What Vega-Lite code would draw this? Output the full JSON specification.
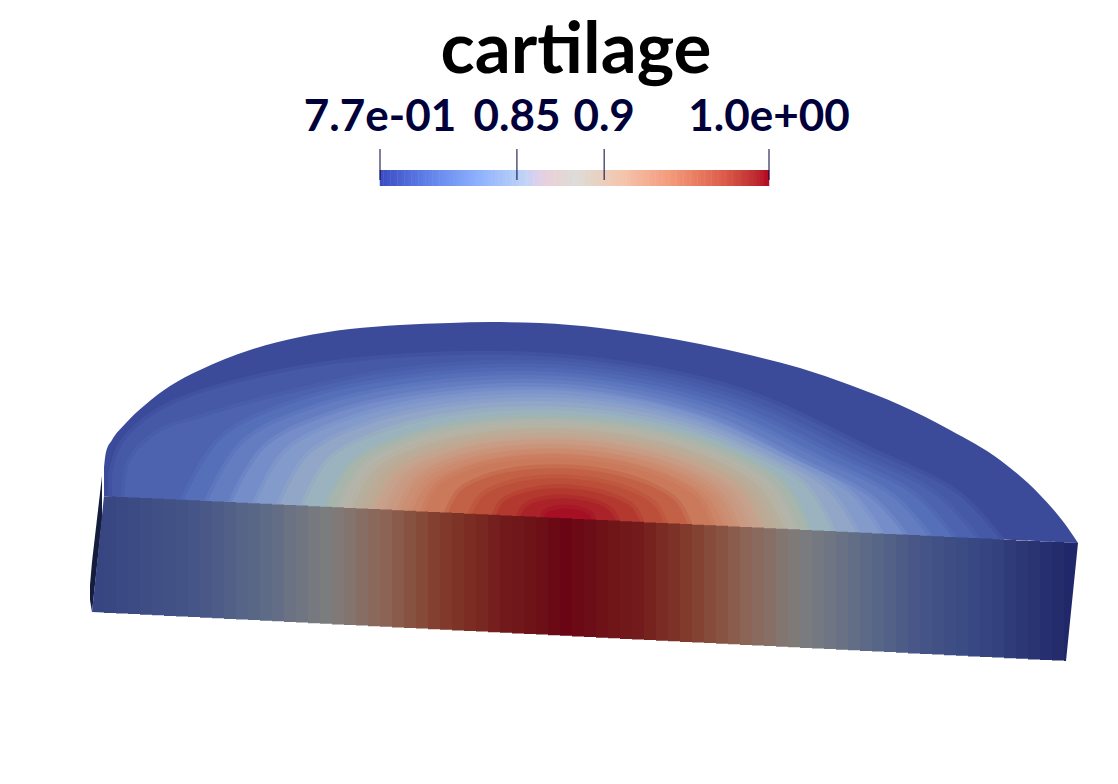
{"$schema":"https://vega.github.io/schema/vega-lite/v6.json","width":1118,"height":784,"padding":0,"autosize":{"type":"fit","contains":"padding"},"background":"white","config":{"view":{"stroke":null}},
"datasets":{
"sliver":[{"x":90,"y":585,"y2":600},{"x":92,"y":562,"y2":612},{"x":102,"y":476,"y2":520}],
"outer":[{"x":104,"y":468,"y2":496,"v":0.775},{"x":106,"y":452,"y2":496.1,"v":0.775},{"x":112,"y":440,"y2":496.4,"v":0.775},{"x":125,"y":424,"y2":497,"v":0.775},{"x":145,"y":405,"y2":498,"v":0.775},{"x":170,"y":386,"y2":499.2,"v":0.775},{"x":200,"y":370,"y2":500.6,"v":0.775},{"x":250,"y":350,"y2":503,"v":0.775},{"x":300,"y":337,"y2":505.5,"v":0.775},{"x":350,"y":329,"y2":507.9,"v":0.775},{"x":400,"y":325,"y2":510.3,"v":0.775},{"x":450,"y":323,"y2":512.7,"v":0.775},{"x":490,"y":322,"y2":514.6,"v":0.775},{"x":540,"y":323,"y2":517.1,"v":0.775},{"x":600,"y":328,"y2":520,"v":0.775},{"x":650,"y":335,"y2":522.4,"v":0.775},{"x":700,"y":344,"y2":524.8,"v":0.775},{"x":750,"y":355,"y2":527.2,"v":0.775},{"x":800,"y":368,"y2":529.6,"v":0.775},{"x":850,"y":385,"y2":532,"v":0.775},{"x":900,"y":405,"y2":534.4,"v":0.775},{"x":950,"y":430,"y2":536.9,"v":0.775},{"x":1000,"y":460,"y2":539.3,"v":0.775},{"x":1040,"y":495,"y2":541.2,"v":0.775},{"x":1065,"y":524,"y2":542.4,"v":0.775},{"x":1078,"y":543,"y2":543,"v":0.775}],
"contours":[
{"x":112,"y":496,"v":0.785},{"x":113,"y":470,"v":0.785},{"x":124,"y":442,"v":0.785},{"x":165,"y":408,"v":0.785},{"x":266,"y":376,"v":0.785},{"x":395,"y":358,"v":0.785},{"x":568,"y":358.3,"v":0.785},{"x":741,"y":391.6,"v":0.785},{"x":870,"y":450.7,"v":0.785},{"x":957,"y":494,"v":0.785},{"x":1000,"y":539.4,"v":0.785},
{"x":125,"y":498,"v":0.792},{"x":130,"y":462,"v":0.792},{"x":160,"y":432,"v":0.792},{"x":201,"y":418,"v":0.792},{"x":282,"y":395.5,"v":0.792},{"x":405,"y":370.4,"v":0.792},{"x":568,"y":365.5,"v":0.792},{"x":731,"y":397.2,"v":0.792},{"x":854,"y":453.7,"v":0.792},{"x":935,"y":494.8,"v":0.792},{"x":976,"y":538.2,"v":0.792},
{"x":184,"y":499.9,"v":0.8},{"x":222,"y":438.4,"v":0.8},{"x":299,"y":401.5,"v":0.8},{"x":414,"y":377.6,"v":0.8},{"x":568,"y":372.9,"v":0.8},{"x":722,"y":403.1,"v":0.8},{"x":837,"y":456.6,"v":0.8},{"x":914,"y":495.7,"v":0.8},{"x":952,"y":537.1,"v":0.8},
{"x":208,"y":501.1,"v":0.81},{"x":244,"y":442.7,"v":0.81},{"x":316,"y":407.8,"v":0.81},{"x":424,"y":385.1,"v":0.81},{"x":568,"y":380.5,"v":0.81},{"x":712,"y":409,"v":0.81},{"x":820,"y":459.8,"v":0.81},{"x":892,"y":496.8,"v":0.81},{"x":928,"y":535.9,"v":0.81},
{"x":232,"y":502.3,"v":0.822},{"x":266,"y":447.1,"v":0.822},{"x":333,"y":414.2,"v":0.822},{"x":434,"y":392.7,"v":0.822},{"x":568,"y":388.3,"v":0.822},{"x":702,"y":415.1,"v":0.822},{"x":803,"y":462.8,"v":0.822},{"x":870,"y":497.9,"v":0.822},{"x":904,"y":534.7,"v":0.822},
{"x":256,"y":503.4,"v":0.833},{"x":287,"y":451.2,"v":0.833},{"x":350,"y":419.8,"v":0.833},{"x":443,"y":399.3,"v":0.833},{"x":568,"y":395,"v":0.833},{"x":693,"y":418.1,"v":0.833},{"x":786,"y":459.3,"v":0.833},{"x":849,"y":493.3,"v":0.833},{"x":880,"y":533.6,"v":0.833},
{"x":280,"y":504.6,"v":0.845},{"x":309,"y":455.2,"v":0.845},{"x":366,"y":425.7,"v":0.845},{"x":453,"y":406.3,"v":0.845},{"x":568,"y":402.1,"v":0.845},{"x":683,"y":421.6,"v":0.845},{"x":770,"y":456.7,"v":0.845},{"x":827,"y":489.9,"v":0.845},{"x":856,"y":532.4,"v":0.845},
{"x":304,"y":505.7,"v":0.86},{"x":330,"y":460.1,"v":0.86},{"x":383,"y":432.6,"v":0.86},{"x":462,"y":414.5,"v":0.86},{"x":568,"y":410.7,"v":0.86},{"x":674,"y":426.7,"v":0.86},{"x":753,"y":455.8,"v":0.86},{"x":806,"y":487.6,"v":0.86},{"x":832,"y":531.3,"v":0.86},
{"x":328,"y":506.9,"v":0.875},{"x":352,"y":464.5,"v":0.875},{"x":400,"y":439,"v":0.875},{"x":472,"y":422.2,"v":0.875},{"x":568,"y":418.5,"v":0.875},{"x":664,"y":431.4,"v":0.875},{"x":736,"y":455.2,"v":0.875},{"x":784,"y":485.3,"v":0.875},{"x":808,"y":530.1,"v":0.875},
{"x":340,"y":507.5,"v":0.883},{"x":363,"y":467.2,"v":0.883},{"x":408,"y":443,"v":0.883},{"x":477,"y":427,"v":0.883},{"x":568,"y":423.5,"v":0.883},{"x":659,"y":435.8,"v":0.883},{"x":728,"y":458.4,"v":0.883},{"x":773,"y":487,"v":0.883},{"x":796,"y":529.5,"v":0.883},
{"x":352,"y":508.1,"v":0.892},{"x":374,"y":469.9,"v":0.892},{"x":417,"y":446.9,"v":0.892},{"x":482,"y":431.8,"v":0.892},{"x":568,"y":428.5,"v":0.892},{"x":654,"y":440.1,"v":0.892},{"x":719,"y":461.5,"v":0.892},{"x":762,"y":488.6,"v":0.892},{"x":784,"y":528.9,"v":0.892},
{"x":364,"y":508.6,"v":0.9},{"x":384,"y":472.6,"v":0.9},{"x":425,"y":450.9,"v":0.9},{"x":486,"y":436.6,"v":0.9},{"x":568,"y":433.5,"v":0.9},{"x":650,"y":444.5,"v":0.9},{"x":711,"y":464.7,"v":0.9},{"x":752,"y":490.3,"v":0.9},{"x":772,"y":528.4,"v":0.9},
{"x":376,"y":509.2,"v":0.91},{"x":395,"y":475.3,"v":0.91},{"x":434,"y":454.9,"v":0.91},{"x":491,"y":441.5,"v":0.91},{"x":568,"y":438.5,"v":0.91},{"x":645,"y":448.8,"v":0.91},{"x":702,"y":467.9,"v":0.91},{"x":741,"y":491.9,"v":0.91},{"x":760,"y":527.8,"v":0.91},
{"x":388,"y":509.8,"v":0.918},{"x":406,"y":478,"v":0.918},{"x":442,"y":458.9,"v":0.918},{"x":496,"y":446.3,"v":0.918},{"x":568,"y":443.5,"v":0.918},{"x":640,"y":453.2,"v":0.918},{"x":694,"y":471,"v":0.918},{"x":730,"y":493.6,"v":0.918},{"x":748,"y":527.2,"v":0.918},
{"x":400,"y":510.4,"v":0.927},{"x":417,"y":480.7,"v":0.927},{"x":450,"y":462.8,"v":0.927},{"x":501,"y":451.1,"v":0.927},{"x":568,"y":448.5,"v":0.927},{"x":635,"y":457.5,"v":0.927},{"x":686,"y":474.2,"v":0.927},{"x":719,"y":495.3,"v":0.927},{"x":736,"y":526.6,"v":0.927},
{"x":412,"y":511,"v":0.936},{"x":428,"y":483.4,"v":0.936},{"x":459,"y":466.8,"v":0.936},{"x":506,"y":455.9,"v":0.936},{"x":568,"y":453.5,"v":0.936},{"x":630,"y":461.9,"v":0.936},{"x":677,"y":477.4,"v":0.936},{"x":708,"y":496.9,"v":0.936},{"x":724,"y":526,"v":0.936},
{"x":424,"y":511.5,"v":0.945},{"x":438,"y":486.1,"v":0.945},{"x":467,"y":470.8,"v":0.945},{"x":510,"y":460.7,"v":0.945},{"x":568,"y":458.5,"v":0.945},{"x":626,"y":466.2,"v":0.945},{"x":669,"y":480.5,"v":0.945},{"x":698,"y":498.6,"v":0.945},{"x":712,"y":525.5,"v":0.945},
{"x":448,"y":512.7,"v":0.96},{"x":460,"y":491.5,"v":0.96},{"x":484,"y":478.7,"v":0.96},{"x":520,"y":470.3,"v":0.96},{"x":568,"y":468.5,"v":0.96},{"x":616,"y":474.9,"v":0.96},{"x":652,"y":486.8,"v":0.96},{"x":676,"y":501.9,"v":0.96},{"x":688,"y":524.3,"v":0.96},
{"x":472,"y":513.9,"v":0.97},{"x":482,"y":496.9,"v":0.97},{"x":501,"y":486.7,"v":0.97},{"x":530,"y":480,"v":0.97},{"x":568,"y":478.5,"v":0.97},{"x":606,"y":483.7,"v":0.97},{"x":635,"y":493.2,"v":0.97},{"x":654,"y":505.2,"v":0.97},{"x":664,"y":523.1,"v":0.97},
{"x":496,"y":515,"v":0.98},{"x":503,"y":502.3,"v":0.98},{"x":518,"y":494.6,"v":0.98},{"x":539,"y":489.6,"v":0.98},{"x":568,"y":488.5,"v":0.98},{"x":597,"y":492.4,"v":0.98},{"x":618,"y":499.5,"v":0.98},{"x":633,"y":508.5,"v":0.98},{"x":640,"y":522,"v":0.98},
{"x":520,"y":516.2,"v":0.988},{"x":525,"y":507.7,"v":0.988},{"x":534,"y":502.6,"v":0.988},{"x":549,"y":499.2,"v":0.988},{"x":568,"y":498.5,"v":0.988},{"x":587,"y":501.1,"v":0.988},{"x":602,"y":505.8,"v":0.988},{"x":611,"y":511.9,"v":0.988},{"x":616,"y":520.8,"v":0.988},
{"x":544,"y":517.3,"v":0.993},{"x":546,"y":513.1,"v":0.993},{"x":551,"y":510.5,"v":0.993},{"x":558,"y":508.9,"v":0.993},{"x":568,"y":508.5,"v":0.993},{"x":578,"y":509.8,"v":0.993},{"x":585,"y":512.2,"v":0.993},{"x":590,"y":515.2,"v":0.993},{"x":592,"y":519.7,"v":0.993}],
"frontEnds":[{"s":0,"x":92,"y":612,"y2":612,"v":0.76},{"s":0,"x":104,"y":496,"y2":612.6,"v":0.76},{"s":1,"x":1064,"y":542.4,"y2":660.9,"v":0.72},{"s":1,"x":1066,"y":542.5,"y2":661,"v":0.72},{"s":1,"x":1078,"y":543,"y2":543,"v":0.72}],
"front":[{"x":110,"y":496.3,"y2":612.9,"v":0.763},{"x":122,"y":496.9,"y2":613.5,"v":0.768},{"x":134,"y":497.5,"y2":614.1,"v":0.773},{"x":146,"y":498,"y2":614.7,"v":0.778},{"x":158,"y":498.6,"y2":615.3,"v":0.783},{"x":170,"y":499.2,"y2":615.9,"v":0.788},{"x":182,"y":499.8,"y2":616.5,"v":0.794},{"x":194,"y":500.3,"y2":617.1,"v":0.799},{"x":206,"y":500.9,"y2":617.7,"v":0.805},{"x":218,"y":501.5,"y2":618.3,"v":0.812},{"x":230,"y":502.1,"y2":618.9,"v":0.818},{"x":242,"y":502.7,"y2":619.5,"v":0.825},{"x":254,"y":503.3,"y2":620.1,"v":0.831},{"x":266,"y":503.8,"y2":620.7,"v":0.838},{"x":278,"y":504.4,"y2":621.3,"v":0.846},{"x":290,"y":505,"y2":622,"v":0.855},{"x":302,"y":505.6,"y2":622.6,"v":0.863},{"x":314,"y":506.2,"y2":623.2,"v":0.872},{"x":326,"y":506.7,"y2":623.8,"v":0.88},{"x":338,"y":507.3,"y2":624.4,"v":0.887},{"x":350,"y":507.9,"y2":625,"v":0.893},{"x":362,"y":508.5,"y2":625.6,"v":0.899},{"x":374,"y":509.1,"y2":626.2,"v":0.905},{"x":386,"y":509.6,"y2":626.8,"v":0.911},{"x":398,"y":510.2,"y2":627.4,"v":0.917},{"x":410,"y":510.8,"y2":628,"v":0.924},{"x":422,"y":511.4,"y2":628.6,"v":0.93},{"x":434,"y":511.9,"y2":629.2,"v":0.937},{"x":446,"y":512.5,"y2":629.8,"v":0.943},{"x":458,"y":513.1,"y2":630.4,"v":0.949},{"x":470,"y":513.7,"y2":631,"v":0.955},{"x":482,"y":514.3,"y2":631.6,"v":0.961},{"x":494,"y":514.8,"y2":632.2,"v":0.967},{"x":506,"y":515.4,"y2":632.8,"v":0.973},{"x":518,"y":516,"y2":633.4,"v":0.978},{"x":530,"y":516.6,"y2":634,"v":0.984},{"x":542,"y":517.2,"y2":634.6,"v":0.989},{"x":554,"y":517.7,"y2":635.2,"v":0.995},{"x":566,"y":518.3,"y2":635.8,"v":1.0},{"x":578,"y":518.9,"y2":636.4,"v":0.995},{"x":590,"y":519.5,"y2":637.1,"v":0.99},{"x":602,"y":520.1,"y2":637.7,"v":0.985},{"x":614,"y":520.6,"y2":638.3,"v":0.98},{"x":626,"y":521.2,"y2":638.9,"v":0.976},{"x":638,"y":521.8,"y2":639.5,"v":0.971},{"x":650,"y":522.4,"y2":640.1,"v":0.964},{"x":662,"y":523,"y2":640.7,"v":0.957},{"x":674,"y":523.5,"y2":641.3,"v":0.95},{"x":686,"y":524.1,"y2":641.9,"v":0.942},{"x":698,"y":524.7,"y2":642.5,"v":0.936},{"x":710,"y":525.3,"y2":643.1,"v":0.929},{"x":722,"y":525.8,"y2":643.7,"v":0.923},{"x":734,"y":526.4,"y2":644.3,"v":0.916},{"x":746,"y":527,"y2":644.9,"v":0.909},{"x":758,"y":527.6,"y2":645.5,"v":0.904},{"x":770,"y":528.2,"y2":646.1,"v":0.898},{"x":782,"y":528.8,"y2":646.7,"v":0.892},{"x":794,"y":529.3,"y2":647.3,"v":0.886},{"x":806,"y":529.9,"y2":647.9,"v":0.879},{"x":818,"y":530.5,"y2":648.5,"v":0.87},{"x":830,"y":531.1,"y2":649.1,"v":0.862},{"x":842,"y":531.7,"y2":649.7,"v":0.853},{"x":854,"y":532.2,"y2":650.3,"v":0.844},{"x":866,"y":532.8,"y2":650.9,"v":0.836},{"x":878,"y":533.4,"y2":651.5,"v":0.828},{"x":890,"y":534,"y2":652.1,"v":0.82},{"x":902,"y":534.6,"y2":652.7,"v":0.812},{"x":914,"y":535.1,"y2":653.4,"v":0.804},{"x":926,"y":535.7,"y2":654,"v":0.796},{"x":938,"y":536.3,"y2":654.6,"v":0.788},{"x":950,"y":536.9,"y2":655.2,"v":0.78},{"x":962,"y":537.5,"y2":655.8,"v":0.772},{"x":974,"y":538,"y2":656.4,"v":0.764},{"x":986,"y":538.6,"y2":657,"v":0.758},{"x":998,"y":539.2,"y2":657.6,"v":0.753},{"x":1010,"y":539.8,"y2":658.2,"v":0.747},{"x":1022,"y":540.4,"y2":658.8,"v":0.741},{"x":1034,"y":540.9,"y2":659.4,"v":0.736},{"x":1046,"y":541.5,"y2":660,"v":0.73},{"x":1058,"y":542.1,"y2":660.6,"v":0.725}],
"bar":[{"v":0.7725},{"v":0.7745},{"v":0.7765},{"v":0.7785},{"v":0.7805},{"v":0.7825},{"v":0.7845},{"v":0.7865},{"v":0.7885},{"v":0.7905},{"v":0.7925},{"v":0.7945},{"v":0.7965},{"v":0.7985},{"v":0.8005},{"v":0.8025},{"v":0.8045},{"v":0.8065},{"v":0.8085},{"v":0.8105},{"v":0.8125},{"v":0.8145},{"v":0.8165},{"v":0.8185},{"v":0.8205},{"v":0.8225},{"v":0.8245},{"v":0.8265},{"v":0.8285},{"v":0.8305},{"v":0.8325},{"v":0.8345},{"v":0.8365},{"v":0.8385},{"v":0.8405},{"v":0.8425},{"v":0.8445},{"v":0.8465},{"v":0.8485},{"v":0.8505},{"v":0.8525},{"v":0.8545},{"v":0.8565},{"v":0.8585},{"v":0.8605},{"v":0.8625},{"v":0.8645},{"v":0.8665},{"v":0.8685},{"v":0.8705},{"v":0.8725},{"v":0.8745},{"v":0.8765},{"v":0.8785},{"v":0.8805},{"v":0.8825},{"v":0.8845},{"v":0.8865},{"v":0.8885},{"v":0.8905},{"v":0.8925},{"v":0.8945},{"v":0.8965},{"v":0.8985},{"v":0.9005},{"v":0.9025},{"v":0.9045},{"v":0.9065},{"v":0.9085},{"v":0.9105},{"v":0.9125},{"v":0.9145},{"v":0.9165},{"v":0.9185},{"v":0.9205},{"v":0.9225},{"v":0.9245},{"v":0.9265},{"v":0.9285},{"v":0.9305},{"v":0.9325},{"v":0.9345},{"v":0.9365},{"v":0.9385},{"v":0.9405},{"v":0.9425},{"v":0.9445},{"v":0.9465},{"v":0.9485},{"v":0.9505},{"v":0.9525},{"v":0.9545},{"v":0.9565},{"v":0.9585},{"v":0.9605},{"v":0.9625},{"v":0.9645},{"v":0.9665},{"v":0.9685},{"v":0.9705},{"v":0.9725},{"v":0.9745},{"v":0.9765},{"v":0.9785},{"v":0.9805},{"v":0.9825},{"v":0.9845},{"v":0.9865},{"v":0.9885},{"v":0.9905},{"v":0.9925},{"v":0.9935}],
"ticks":[{"v":0.7715,"label":"7.7e-01"},{"v":0.85,"label":"0.85"},{"v":0.9,"label":"0.9"},{"v":0.9945,"label":"1.0e+00"}],
"title":[{"x":576,"y":52,"label":"cartilage"}]
},
"layer":[
{"data":{"name":"sliver"},"mark":{"type":"area","color":"#141e3c"},"encoding":{"x":{"field":"x","type":"quantitative","axis":null,"scale":{"domain":[0,1118],"range":[0,1118]}},"y":{"field":"y","type":"quantitative","axis":null,"stack":null,"scale":{"domain":[0,784],"range":[0,784]}},"y2":{"field":"y2"}}},
{"data":{"name":"outer"},"mark":{"type":"area","interpolate":"monotone"},"encoding":{"x":{"field":"x","type":"quantitative","axis":null,"scale":{"domain":[0,1118],"range":[0,1118]}},"y":{"field":"y","type":"quantitative","axis":null,"stack":null,"scale":{"domain":[0,784],"range":[0,784]}},"y2":{"field":"y2"},"color":{"field":"v","type":"quantitative","legend":null,"scale":{"domain":[0.7715,0.7994,0.8273,0.855,0.883,0.911,0.939,0.967,0.9945],"range":["#374696","#556eb9","#7d96cd","#a0afc3","#b4b4aa","#c8a08c","#cd8264","#be553c","#a50523"]}}}},
{"data":{"name":"contours"},"mark":{"type":"area","interpolate":"catmull-rom","strokeWidth":8,"strokeOpacity":0.5},"encoding":{"x":{"field":"x","type":"quantitative","axis":null,"scale":{"domain":[0,1118],"range":[0,1118]}},"y":{"field":"y","type":"quantitative","axis":null,"stack":null,"scale":{"domain":[0,784],"range":[0,784]}},"y2":{"datum":560},"detail":{"field":"v","type":"quantitative"},"color":{"field":"v","type":"quantitative","legend":null,"scale":{"domain":[0.7715,0.7994,0.8273,0.855,0.883,0.911,0.939,0.967,0.9945],"range":["#374696","#556eb9","#7d96cd","#a0afc3","#b4b4aa","#c8a08c","#cd8264","#be553c","#a50523"]}},"stroke":{"field":"v","type":"quantitative","legend":null,"scale":{"domain":[0.7715,0.7994,0.8273,0.855,0.883,0.911,0.939,0.967,0.9945],"range":["#374696","#556eb9","#7d96cd","#a0afc3","#b4b4aa","#c8a08c","#cd8264","#be553c","#a50523"]}}}},
{"data":{"name":"frontEnds"},"mark":{"type":"area"},"encoding":{"x":{"field":"x","type":"quantitative","axis":null,"scale":{"domain":[0,1118],"range":[0,1118]}},"y":{"field":"y","type":"quantitative","axis":null,"stack":null,"scale":{"domain":[0,784],"range":[0,784]}},"y2":{"field":"y2"},"detail":{"field":"s","type":"nominal"},"color":{"field":"v","type":"quantitative","legend":null,"scale":{"domain":[0.72,0.76,0.8,0.84,0.883,0.91,0.94,0.97,1.0],"range":["#212869","#374682","#465587","#5f6c87","#7d7d7d","#8c6455","#823c2d","#731c1c","#690514"]}}}},
{"data":{"name":"front"},"mark":{"type":"rule","strokeWidth":12},"encoding":{"x":{"field":"x","type":"quantitative","axis":null,"scale":{"domain":[0,1118],"range":[0,1118]}},"y":{"field":"y","type":"quantitative","axis":null,"scale":{"domain":[0,784],"range":[0,784]}},"y2":{"field":"y2"},"color":{"field":"v","type":"quantitative","legend":null,"scale":{"domain":[0.72,0.76,0.8,0.84,0.883,0.91,0.94,0.97,1.0],"range":["#212869","#374682","#465587","#5f6c87","#7d7d7d","#8c6455","#823c2d","#731c1c","#690514"]}}}},
{"data":{"name":"bar"},"mark":{"type":"rule","strokeWidth":4},"encoding":{"x":{"field":"v","type":"quantitative","axis":null,"scale":{"domain":[0.7715,0.9945],"range":[380,769]}},"y":{"datum":170,"type":"quantitative","axis":null,"scale":{"domain":[0,784],"range":[0,784]}},"y2":{"datum":186},"color":{"field":"v","type":"quantitative","legend":null,"scale":{"domain":[0.7715,0.7994,0.8273,0.855,0.883,0.9109,0.9388,0.9666,0.9945],"range":["#3b4cc0","#6182ea","#8db0fe","#c0d4f5","#dddcdb","#f5c4ad","#f4987a","#de604d","#b40426"]}}}},
{"data":{"name":"ticks"},"mark":{"type":"rule","color":"#00003a","strokeWidth":1},"encoding":{"x":{"field":"v","type":"quantitative","axis":null,"scale":{"domain":[0.7715,0.9945],"range":[380,769]}},"y":{"datum":149,"type":"quantitative","axis":null,"scale":{"domain":[0,784],"range":[0,784]}},"y2":{"datum":180}}},
{"data":{"name":"ticks"},"mark":{"type":"text","font":"Lato","fontWeight":"bold","fontSize":44,"color":"#00003a","baseline":"middle","align":"center"},"encoding":{"x":{"field":"v","type":"quantitative","axis":null,"scale":{"domain":[0.7715,0.9945],"range":[380,769]}},"y":{"datum":118,"type":"quantitative","axis":null,"scale":{"domain":[0,784],"range":[0,784]}},"text":{"field":"label","type":"nominal"}}},
{"data":{"name":"title"},"mark":{"type":"text","font":"Lato","fontWeight":"bold","fontSize":71,"color":"#000000","baseline":"middle","align":"center"},"encoding":{"x":{"field":"x","type":"quantitative","axis":null,"scale":{"domain":[0,1118],"range":[0,1118]}},"y":{"field":"y","type":"quantitative","axis":null,"scale":{"domain":[0,784],"range":[0,784]}},"text":{"field":"label","type":"nominal"}}}
],
"resolve":{"scale":{"x":"independent","color":"independent","stroke":"independent"}}}
